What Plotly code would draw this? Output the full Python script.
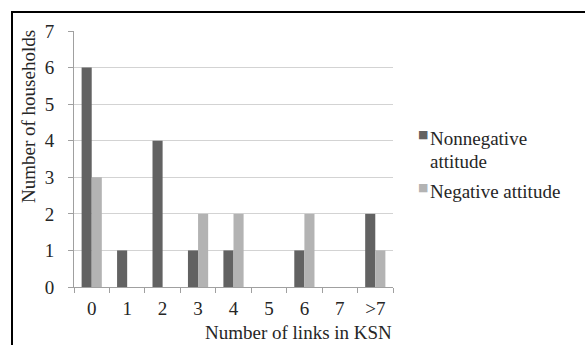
import plotly.graph_objects as go

categories = ["0", "1", "2", "3", "4", "5", "6", "7", ">7"]
nonnegative = [6, 1, 4, 1, 1, 0, 1, 0, 2]
negative = [3, 0, 0, 2, 2, 0, 2, 0, 1]
series_names = ["Nonnegative<br>attitude", "Negative attitude"]
series_colors = ["#626262", "#b3b3b3"]
y_ticks = [0, 1, 2, 3, 4, 5, 6, 7]
x_title = "Number of links in KSN"
y_title = "Number of households"

FONT = "Liberation Serif, Times New Roman, serif"
TXT = "#262626"

W, H = 585, 345
L, R, T, B = 74, 192, 31, 58
pw, ph = W - L - R, H - T - B

def px_x(x):
    return (x - L) / pw

def px_y(y):
    return (H - B - y) / ph

fig = go.Figure()
for vals, name, col in zip([nonnegative, negative], series_names, series_colors):
    fig.add_trace(go.Bar(x=categories, y=vals, name=name.replace("<br>", " "),
                         showlegend=False,
                         marker=dict(color=col, line=dict(width=0))))

annotations = [
    dict(text=y_title, xref="paper", yref="paper", x=px_x(28), y=px_y(117),
         textangle=-90, showarrow=False, xanchor="center", yanchor="middle",
         font=dict(family=FONT, size=19, color=TXT)),
    dict(text=x_title, xref="paper", yref="paper", x=px_x(394), y=px_y(332),
         showarrow=False, xanchor="right", yanchor="middle",
         font=dict(family=FONT, size=19, color=TXT)),
]

# manual legend (Excel style: small square key right next to the text)
legend_rows = [138, 191]
line_h = 23
for name, col, ytop in zip(series_names, series_colors, legend_rows):
    annotations.append(dict(text="■", xref="paper", yref="paper",
                            x=px_x(422.5), y=px_y(ytop - 4), showarrow=False,
                            xanchor="center", yanchor="middle",
                            font=dict(family="DejaVu Sans", size=11, color=col)))
    for i, line in enumerate(name.split("<br>")):
        annotations.append(dict(text=line, xref="paper", yref="paper",
                                x=px_x(428), y=px_y(ytop + i * line_h),
                                showarrow=False, xanchor="left", yanchor="middle",
                                font=dict(family=FONT, size=19, color=TXT)))

fig.update_layout(
    width=W, height=H,
    margin=dict(l=L, r=R, t=T, b=B, pad=0, autoexpand=False),
    paper_bgcolor="white", plot_bgcolor="white",
    barmode="group", bargap=0.43, bargroupgap=0,
    font=dict(family=FONT, size=19, color=TXT),
    showlegend=False,
    xaxis=dict(type="category", range=[-0.5, 8.5], showgrid=False,
               showline=True, linecolor="#a0a0a0", linewidth=1,
               ticks="outside", ticklen=5, tickcolor="#a0a0a0",
               tickson="boundaries", tickfont=dict(size=19),
               ticklabelstandoff=4, fixedrange=True),
    yaxis=dict(range=[0, 7], tickvals=y_ticks, showgrid=True,
               gridcolor="#d3d3d3", gridwidth=1, zeroline=False,
               showline=True, linecolor="#a0a0a0", linewidth=1,
               ticks="outside", ticklen=5, tickcolor="#a0a0a0",
               tickfont=dict(size=19), ticklabelstandoff=10, fixedrange=True),
    annotations=annotations,
    shapes=[
        dict(type="line", xref="paper", yref="paper", x0=px_x(11), x1=px_x(586),
             y0=px_y(12), y1=px_y(12), line=dict(color="black", width=2)),
        dict(type="line", xref="paper", yref="paper", x0=px_x(12), x1=px_x(12),
             y0=px_y(11), y1=px_y(346), line=dict(color="black", width=2)),
    ],
)

fig.write_html("out.html", config={"displayModeBar": False},
               post_script="document.body.style.margin='0px';")
